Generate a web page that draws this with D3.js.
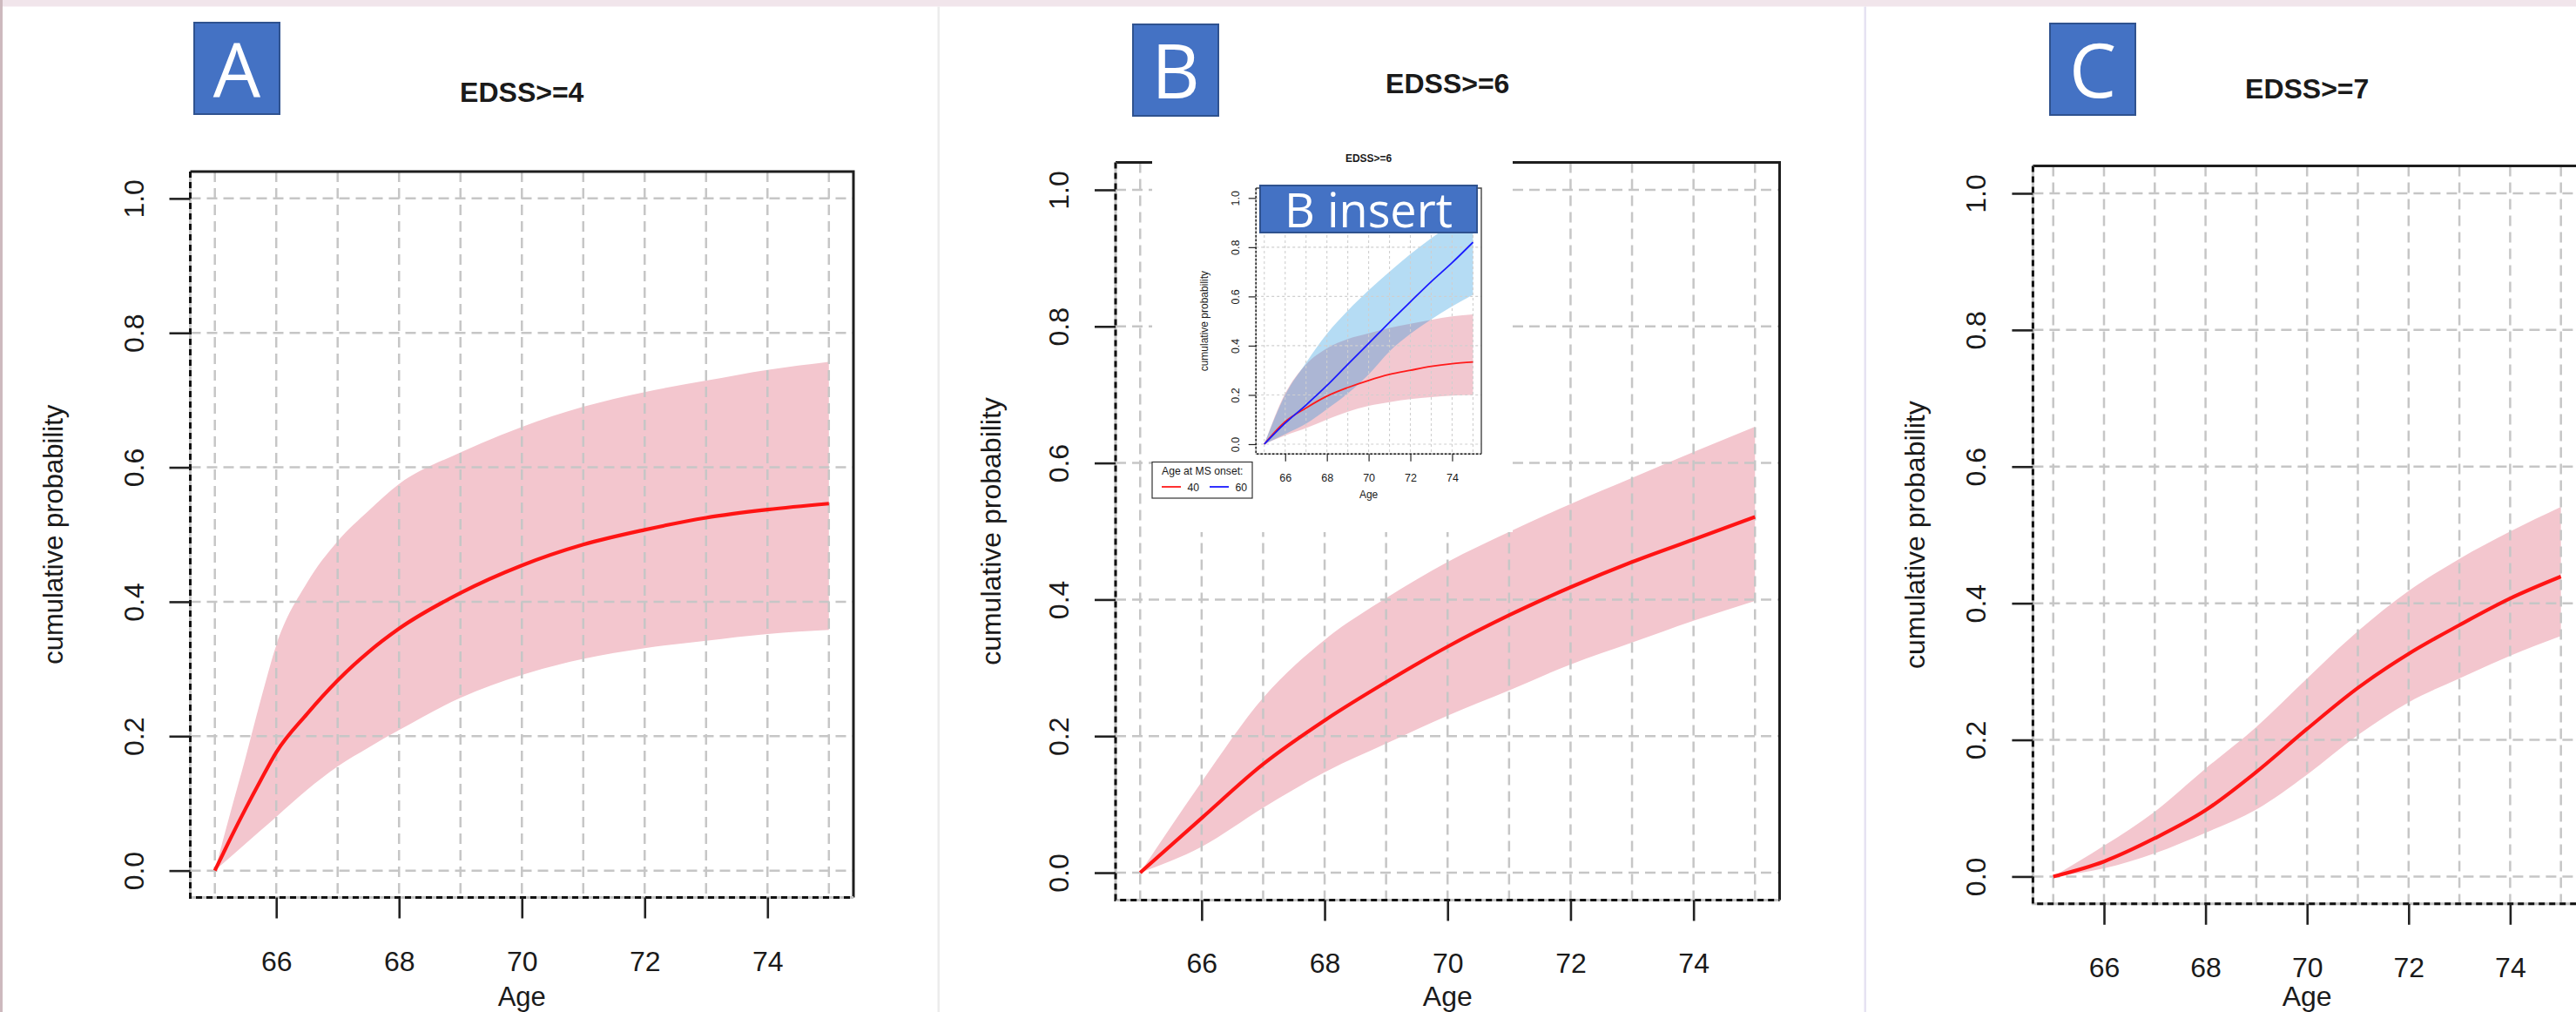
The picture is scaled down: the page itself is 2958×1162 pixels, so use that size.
<!DOCTYPE html>
<html><head><meta charset="utf-8">
<script src="https://cdn.jsdelivr.net/npm/d3@7"></script>
<style>
html,body{margin:0;padding:0;background:#fff;overflow:hidden}
svg{display:block}
</style></head><body>
<script>
// ---------- data ----------
const ageTicks = [66, 68, 70, 72, 74];
const probTicks = [0, 0.2, 0.4, 0.6, 0.8, 1.0];
const gridAges = [65, 66, 67, 68, 69, 70, 71, 72, 73, 74, 75];
const titles = ["EDSS>=4", "EDSS>=6", "EDSS>=7"];
const panelLetters = ["A", "B", "C"];
const xLabel = "Age";
const yLabel = "cumulative probability";

const agesA = [65, 65.25, 65.5, 65.75, 66, 66.5, 67, 67.5, 68, 69, 70, 71, 72, 73, 74, 75];
const estA = [0, 0.047, 0.092, 0.135, 0.176, 0.233, 0.283, 0.325, 0.360, 0.413, 0.454, 0.485, 0.507, 0.525, 0.537, 0.546];
const lowA = [0, 0.020, 0.040, 0.060, 0.080, 0.120, 0.155, 0.183, 0.209, 0.257, 0.291, 0.315, 0.331, 0.342, 0.352, 0.358];
const upA  = [0, 0.085, 0.168, 0.255, 0.335, 0.428, 0.490, 0.535, 0.575, 0.622, 0.660, 0.690, 0.712, 0.729, 0.745, 0.757];

const ages = [65, 66, 67, 68, 69, 70, 71, 72, 73, 74, 75];
const estB = [0, 0.080, 0.159, 0.223, 0.279, 0.331, 0.377, 0.418, 0.455, 0.488, 0.521];
const lowB = [0, 0.038, 0.095, 0.147, 0.189, 0.230, 0.267, 0.305, 0.337, 0.369, 0.398];
const upB  = [0, 0.133, 0.256, 0.341, 0.402, 0.455, 0.499, 0.540, 0.578, 0.616, 0.653];

const estC = [0, 0.022, 0.056, 0.097, 0.153, 0.216, 0.276, 0.326, 0.368, 0.407, 0.439];
const lowC = [0, 0.012, 0.034, 0.064, 0.098, 0.149, 0.207, 0.255, 0.290, 0.323, 0.352];
const upC  = [0, 0.045, 0.095, 0.158, 0.219, 0.290, 0.359, 0.418, 0.465, 0.505, 0.541];

// insert (B): age at MS onset 40 vs 60
const legendTitle = "Age at MS onset:";
const legendLabels = ["40", "60"];
const est40 = [0, 0.091, 0.147, 0.195, 0.230, 0.259, 0.283, 0.300, 0.316, 0.327, 0.334];
const low40 = [0, 0.035, 0.065, 0.100, 0.132, 0.156, 0.171, 0.183, 0.191, 0.197, 0.200];
const up40  = [0, 0.206, 0.324, 0.389, 0.427, 0.450, 0.472, 0.489, 0.505, 0.519, 0.527];
const est60 = [0, 0.085, 0.159, 0.238, 0.324, 0.409, 0.495, 0.578, 0.660, 0.737, 0.820];
const low60 = [0, 0.041, 0.083, 0.142, 0.206, 0.283, 0.377, 0.448, 0.507, 0.560, 0.607];
const up60  = [0, 0.200, 0.330, 0.448, 0.542, 0.625, 0.700, 0.772, 0.837, 0.896, 0.955];

// ---------- layout / style ----------
const W = 2958, H = 1162;
const FONT = "'Liberation Sans', Arial, Helvetica, sans-serif";
const BOXFONT = "'Open Sans', 'Noto Sans', sans-serif";
const PINK = "#F3C6CE";
const RED = "#FF1414";

const svg = d3.select("body").append("svg").attr("width", W).attr("height", H);
svg.append("rect").attr("width", W).attr("height", H).attr("fill", "#fff");
svg.append("rect").attr("x", 0).attr("y", 0).attr("width", W).attr("height", 7.5).attr("fill", "#f1e5eb");
svg.append("rect").attr("x", 0).attr("y", 0).attr("width", 3).attr("height", H).attr("fill", "#cdb9be");
svg.append("rect").attr("x", 1076.5).attr("y", 7.5).attr("width", 2.5).attr("height", H).attr("fill", "#ececec");
svg.append("rect").attr("x", 2140.5).attr("y", 7.5).attr("width", 2.5).attr("height", H).attr("fill", "#e6e2f2");

function mk(ag, es, lo, up) { return ag.map((a, i) => ({ a, e: es[i], lo: lo[i], hi: up[i] })); }

function drawPlot(g, cfg, series) {
  const x = d3.scaleLinear().domain([64.6, 75.4]).range([cfg.x0, cfg.x1]);
  const y = d3.scaleLinear().domain([-0.04, 1.04]).range([cfg.y1, cfg.y0]);
  const area = d3.area().x(d => x(d.a)).y0(d => y(d.lo)).y1(d => y(d.hi)).curve(d3.curveMonotoneX);
  const line = d3.line().x(d => x(d.a)).y(d => y(d.e)).curve(d3.curveMonotoneX);
  series.forEach(s => g.append("path").datum(s.pts).attr("d", area).attr("fill", s.fill).attr("fill-opacity", s.fillOpacity || 1));
  // grid
  g.append("g").selectAll("line").data(gridAges).join("line")
    .attr("x1", d => x(d)).attr("x2", d => x(d)).attr("y1", cfg.y0).attr("y2", cfg.y1)
    .attr("stroke", cfg.gridColor).attr("stroke-width", cfg.gw).attr("stroke-dasharray", cfg.dash);
  g.append("g").selectAll("line").data(probTicks).join("line")
    .attr("y1", d => y(d)).attr("y2", d => y(d)).attr("x1", cfg.x0).attr("x2", cfg.x1)
    .attr("stroke", cfg.gridColor).attr("stroke-width", cfg.gw).attr("stroke-dasharray", cfg.dash);
  series.forEach(s => g.append("path").datum(s.pts).attr("d", line).attr("fill", "none")
    .attr("stroke", s.stroke).attr("stroke-width", cfg.lw).attr("stroke-linejoin", "round"));
  // frame
  g.append("path").attr("d", `M${cfg.x0},${cfg.y0}L${cfg.x1},${cfg.y0}L${cfg.x1},${cfg.y1}`)
    .attr("fill", "none").attr("stroke", cfg.frameColor).attr("stroke-width", cfg.fw);
  g.append("path").attr("d", `M${cfg.x0},${cfg.y0}L${cfg.x0},${cfg.y1}L${cfg.x1},${cfg.y1}`)
    .attr("fill", "none").attr("stroke", "#c4c4c4").attr("stroke-width", cfg.fw);
  g.append("path").attr("d", `M${cfg.x0},${cfg.y0}L${cfg.x0},${cfg.y1}L${cfg.x1},${cfg.y1}`)
    .attr("fill", "none").attr("stroke", "#111").attr("stroke-width", cfg.fw).attr("stroke-dasharray", cfg.fdash);
  // axes
  const ax = g.append("g").attr("transform", `translate(0,${cfg.y1})`)
    .call(d3.axisBottom(x).tickValues(ageTicks).tickSize(cfg.tick).tickFormat(d3.format("d")));
  const ay = g.append("g").attr("transform", `translate(${cfg.x0},0)`)
    .call(d3.axisLeft(y).tickValues(probTicks).tickSize(cfg.tick).tickFormat(d3.format(".1f")));
  [ax, ay].forEach(a => {
    a.select(".domain").remove();
    a.attr("font-family", FONT).attr("font-size", cfg.fs);
    a.selectAll("line").attr("stroke", "#222").attr("stroke-width", cfg.tw);
    a.selectAll("text").attr("fill", "#1a1a1a");
  });
  ax.selectAll("text").attr("y", cfg.xlab).attr("dy", null);
  ay.selectAll("text").attr("x", null).attr("dy", null).attr("text-anchor", "middle")
    .attr("transform", `translate(${-cfg.ylab},0) rotate(-90)`);
  // labels
  const cx = (cfg.x0 + cfg.x1) / 2;
  g.append("text").attr("x", cx).attr("y", cfg.titleY).attr("text-anchor", "middle")
    .attr("font-family", FONT).attr("font-weight", "bold").attr("font-size", cfg.tfs).attr("fill", "#1a1a1a").text(cfg.title);
  g.append("text").attr("x", cx).attr("y", cfg.ageY).attr("text-anchor", "middle")
    .attr("font-family", FONT).attr("font-size", cfg.lfs).attr("fill", "#1a1a1a").text(xLabel);
  g.append("text").attr("transform", `translate(${cfg.yLabX},${(cfg.y0 + cfg.y1) / 2}) rotate(-90)`)
    .attr("text-anchor", "middle").attr("font-family", FONT).attr("font-size", cfg.lfs).attr("fill", "#1a1a1a").text(yLabel);
  return { x, y };
}

function letterBox(x0, y0, w, h, txt, fs, base) {
  svg.append("rect").attr("x", x0).attr("y", y0).attr("width", w).attr("height", h)
    .attr("fill", "#4472C4").attr("stroke", "#2F528F").attr("stroke-width", 2);
  svg.append("text").attr("x", x0 + w / 2).attr("y", base).attr("text-anchor", "middle")
    .attr("font-family", BOXFONT).attr("font-size", fs).attr("fill", "#fff").text(txt);
}

const mainStyle = { gridColor: "#c6c6c6", gw: 2.5, dash: "12,7", lw: 4.2, frameColor: "#1e1e1e", fw: 3, fdash: "7,5", tick: 24, tw: 2.6, xlab: 84, ylab: 54 };

const gA = svg.append("g");
drawPlot(gA, Object.assign({}, mainStyle, { x0: 218.5, x1: 980, y0: 197, y1: 1030.5, fs: 32, tfs: 32, lfs: 31, title: titles[0], titleY: 117, ageY: 1155, yLabX: 72 }),
  [{ pts: mk(agesA, estA, lowA, upA), fill: PINK, stroke: RED }]);

const gB = svg.append("g");
drawPlot(gB, Object.assign({}, mainStyle, { x0: 1281, x1: 2043.5, y0: 186.6, y1: 1033.4, fs: 32, tfs: 32, lfs: 32, title: titles[1], titleY: 107, ageY: 1155, yLabX: 1149 }),
  [{ pts: mk(ages, estB, lowB, upB), fill: PINK, stroke: RED }]);

const gC = svg.append("g");
drawPlot(gC, Object.assign({}, mainStyle, { x0: 2334.4, x1: 2964, y0: 190.6, y1: 1037.8, fs: 32, tfs: 32, lfs: 32, title: titles[2], titleY: 113, ageY: 1155, yLabX: 2210 }),
  [{ pts: mk(ages, estC, lowC, upC), fill: PINK, stroke: RED }]);

// ---------- insert in B ----------
svg.append("rect").attr("x", 1323).attr("y", 150).attr("width", 414).attr("height", 461).attr("fill", "#fff");
const gI = svg.append("g");
drawPlot(gI, { gridColor: "#cfcfcf", gw: 1.1, dash: "3,3", lw: 1.8, frameColor: "#444", fw: 1.4, fdash: "2.5,2", tick: 8.5, tw: 1.2,
  xlab: 32, ylab: 19, x0: 1442.2, x1: 1701, y0: 216, y1: 521.3, fs: 12.5, tfs: 12, lfs: 12,
  title: titles[1], titleY: 186, ageY: 571.5, yLabX: 1387 },
  [{ pts: mk(ages, est40, low40, up40), fill: "rgb(203,35,67)", fillOpacity: 0.25, stroke: "#ff1a1a" },
   { pts: mk(ages, est60, low60, up60), fill: "rgb(25,145,222)", fillOpacity: 0.32, stroke: "#1a1aff" }]);

// legend
const lg = svg.append("g").attr("font-family", FONT).attr("font-size", 12.2).attr("fill", "#1a1a1a");
lg.append("rect").attr("x", 1323).attr("y", 530.5).attr("width", 115).attr("height", 41.5).attr("fill", "#fff").attr("stroke", "#333").attr("stroke-width", 1.2);
lg.append("text").attr("x", 1334).attr("y", 545).text(legendTitle);
const legendColors = ["#ff1a1a", "#1a1aff"];
legendLabels.forEach((lab, i) => {
  const ox = 1334 + i * 55;
  lg.append("line").attr("x1", ox).attr("x2", ox + 22).attr("y1", 559).attr("y2", 559).attr("stroke", legendColors[i]).attr("stroke-width", 1.8);
  lg.append("text").attr("x", ox + 43).attr("y", 563.5).attr("text-anchor", "end").text(lab);
});

// ---------- panel letter boxes ----------
letterBox(223, 26, 98, 105, panelLetters[0], 86, 111.5);
letterBox(1301, 28, 98, 105, panelLetters[1], 86, 113);
letterBox(2354, 27, 98, 105, panelLetters[2], 86, 112);
letterBox(1447, 213, 249, 54, "B insert", 54, 260.5);
</script>
</body></html>
